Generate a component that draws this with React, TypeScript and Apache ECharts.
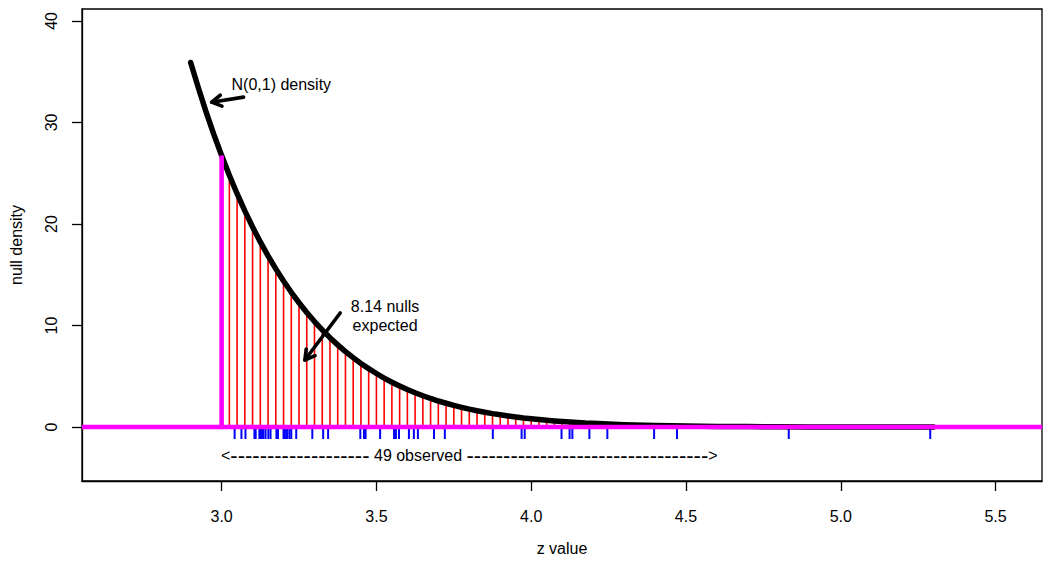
import React, { useEffect, useRef } from "react";
import * as echarts from "echarts";

// Scaled null density curve
const curveZ = [
  2.9, 2.925, 2.95, 2.975, 3.0, 3.025, 3.05, 3.075, 3.1, 3.125, 3.15, 3.175, 3.2, 3.225, 3.25, 3.275,
  3.3, 3.325, 3.35, 3.375, 3.4, 3.425, 3.45, 3.475, 3.5, 3.525, 3.55, 3.575, 3.6, 3.625, 3.65, 3.675,
  3.7, 3.725, 3.75, 3.775, 3.8, 3.825, 3.85, 3.875, 3.9, 3.925, 3.95, 3.975, 4.0, 4.025, 4.05, 4.075,
  4.1, 4.125, 4.15, 4.175, 4.2, 4.25, 4.3, 4.4, 4.5, 4.6, 4.7, 4.8, 4.9, 5.0, 5.1, 5.2, 5.3,
];
const curveDensity = [
  35.91, 33.39, 31.02, 28.81, 26.74, 24.8, 22.98, 21.29, 19.71, 18.23, 16.86, 15.58, 14.38, 13.27, 12.24, 11.28,
  10.39, 9.57, 8.8, 8.09, 7.43, 6.83, 6.26, 5.75, 5.27, 4.82, 4.41, 4.04, 3.69, 3.37, 3.08, 2.81,
  2.56, 2.34, 2.13, 1.94, 1.76, 1.6, 1.46, 1.32, 1.2, 1.09, 0.99, 0.89, 0.81, 0.73, 0.66, 0.6,
  0.54, 0.49, 0.44, 0.39, 0.36, 0.29, 0.23, 0.15, 0.1, 0.06, 0.04, 0.02, 0.01, 0.01, 0.01, 0.0, 0.0,
];

// Observed z values above the threshold (blue rug, 49 values)
const observedZ = [
  3.042, 3.064, 3.077, 3.106, 3.11, 3.122, 3.127, 3.132, 3.135, 3.142, 3.151, 3.158, 3.177, 3.182, 3.18,
  3.2, 3.204, 3.209, 3.212, 3.219, 3.225, 3.241, 3.293, 3.328, 3.344, 3.448, 3.46, 3.465, 3.512, 3.557,
  3.563, 3.573, 3.605, 3.621, 3.634, 3.686, 3.721, 3.876, 3.969, 3.979, 4.098, 4.124, 4.133, 4.188,
  4.246, 4.397, 4.471, 4.832, 5.289,
];

const threshold = 3.0;
const thresholdDensity = 26.74;
const spikeMaxZ = 4.2;

const xTicks = [3.0, 3.5, 4.0, 4.5, 5.0, 5.5];
const yTicks = [0, 10, 20, 30, 40];

const xLabel = "z value";
const yLabel = "null density";
const noteLabels = [
  "N(0,1) density",
  "8.14 nulls\nexpected",
  "<{d|" + "-".repeat(19) + "} 49 observed {d|" + "-".repeat(33) + "}>",
];

const FONT = "'Liberation Sans', Arial, Helvetica, sans-serif";

export default function App() {
  const ref = useRef<HTMLDivElement>(null);

  useEffect(() => {
    if (!ref.current) return;
    const chart = echarts.init(ref.current, null, { renderer: "svg" });

    const curveData = curveZ.map((z, i) => [z, curveDensity[i]]);
    const spikeData = curveData.filter((d) => d[0] > threshold && d[0] <= spikeMaxZ);
    const rugData = observedZ.map((z) => [z, 0]);

    const arrowData = [
      [3.071, 32.5, 2.968, 32.0],
      [3.383, 11.23, 3.269, 6.6],
    ];
    const noteAnchors = [
      [3.032, 33.7],
      [3.528, 10.9],
      [3.8, -2.76],
    ];
    const noteAligns = ["left", "center", "center"];

    const option: any = {
      animation: false,
      backgroundColor: "#ffffff",
      grid: {
        left: 79,
        right: 8,
        top: 9,
        bottom: 80,
        show: true,
        borderColor: "#000",
        borderWidth: 1.3,
        backgroundColor: "transparent",
      },
      xAxis: {
        type: "value",
        min: 2.549,
        max: 5.65,
        splitLine: { show: false },
        axisLine: { show: true, onZero: false, lineStyle: { color: "#000", width: 1.3 } },
        axisTick: { show: true, length: 10, customValues: xTicks, lineStyle: { color: "#000", width: 1.3 } },
        axisLabel: {
          customValues: xTicks,
          formatter: (v: number) => v.toFixed(1),
          color: "#000",
          fontSize: 16,
          fontFamily: FONT,
          margin: 27,
        },
        name: xLabel,
        nameLocation: "middle",
        nameGap: 59,
        nameTextStyle: { color: "#000", fontSize: 16, fontFamily: FONT },
      },
      yAxis: {
        type: "value",
        min: -5.32,
        max: 41.18,
        splitLine: { show: false },
        axisLine: { show: true, onZero: false, lineStyle: { color: "#000", width: 1.3 } },
        axisTick: { show: true, length: 10, customValues: yTicks, lineStyle: { color: "#000", width: 1.3 } },
        axisLabel: {
          customValues: yTicks,
          rotate: 90,
          color: "#000",
          fontSize: 16,
          fontFamily: FONT,
          margin: 23,
        },
        name: yLabel,
        nameLocation: "middle",
        nameGap: 58,
        nameRotate: 90,
        nameTextStyle: { color: "#000", fontSize: 16, fontFamily: FONT },
      },
      series: [
        {
          type: "custom",
          name: "observed",
          z: 1,
          clip: false,
          data: rugData,
          encode: { x: 0, y: 1 },
          renderItem: (params: any, api: any) => {
            const p = api.coord([api.value(0), api.value(1)]);
            return {
              type: "line",
              shape: { x1: p[0], y1: p[1], x2: p[0], y2: p[1] + 12 },
              style: { stroke: "#0000ff", lineWidth: 2 },
            };
          },
        },
        {
          type: "custom",
          name: "spikes",
          z: 2,
          data: spikeData,
          encode: { x: 0, y: 1 },
          renderItem: (params: any, api: any) => {
            const p0 = api.coord([api.value(0), 0]);
            const p1 = api.coord([api.value(0), api.value(1)]);
            return {
              type: "line",
              shape: { x1: p0[0], y1: p0[1], x2: p1[0], y2: p1[1] },
              style: { stroke: "#ff0000", lineWidth: 1.6 },
            };
          },
        },
        {
          type: "line",
          name: "N(0,1) density",
          z: 3,
          data: curveData,
          showSymbol: false,
          symbol: "none",
          lineStyle: { color: "#000", width: 5.5, cap: "round", join: "round" },
        },
        {
          type: "custom",
          name: "null line",
          z: 4,
          clip: false,
          data: [[threshold, thresholdDensity]],
          encode: { x: 0, y: 1 },
          renderItem: (params: any, api: any) => {
            const cs = params.coordSys;
            const base = api.coord([api.value(0), 0]);
            const top = api.coord([api.value(0), api.value(1)]);
            return {
              type: "group",
              children: [
                {
                  type: "line",
                  shape: { x1: cs.x, y1: base[1], x2: cs.x + cs.width, y2: base[1] },
                  style: { stroke: "#ff00ff", lineWidth: 4.6 },
                },
                {
                  type: "line",
                  shape: { x1: base[0], y1: base[1], x2: top[0], y2: top[1] },
                  style: { stroke: "#ff00ff", lineWidth: 4.6 },
                },
              ],
            };
          },
        },
        {
          type: "custom",
          name: "arrows",
          z: 5,
          clip: false,
          data: arrowData,
          encode: { x: [0, 2], y: [1, 3] },
          renderItem: (params: any, api: any) => {
            const p1 = api.coord([api.value(0), api.value(1)]);
            const p2 = api.coord([api.value(2), api.value(3)]);
            const a = Math.atan2(p2[1] - p1[1], p2[0] - p1[0]);
            const L = 11;
            const s = Math.PI / 6;
            const h1 = [p2[0] - L * Math.cos(a - s), p2[1] - L * Math.sin(a - s)];
            const h2 = [p2[0] - L * Math.cos(a + s), p2[1] - L * Math.sin(a + s)];
            const st = { stroke: "#000", lineWidth: 3.6, lineCap: "round", lineJoin: "round", fill: "none" };
            return {
              type: "group",
              children: [
                { type: "line", shape: { x1: p1[0], y1: p1[1], x2: p2[0], y2: p2[1] }, style: st },
                { type: "polyline", shape: { points: [h1, p2, h2] }, style: st },
              ],
            };
          },
        },
        {
          type: "custom",
          name: "notes",
          z: 6,
          clip: false,
          data: noteAnchors,
          encode: { x: 0, y: 1 },
          renderItem: (params: any, api: any) => {
            const p = api.coord([api.value(0), api.value(1)]);
            const i = params.dataIndex;
            return {
              type: "text",
              x: p[0],
              y: p[1],
              style: {
                text: noteLabels[i],
                fill: "#000",
                font: `16px ${FONT}`,
                fontSize: 16,
                fontFamily: FONT,
                lineHeight: 19,
                align: noteAligns[i],
                verticalAlign: "middle",
                textAlign: noteAligns[i],
                textVerticalAlign: "middle",
                rich: {
                  d: { fontSize: 22, fontFamily: FONT, fill: "#000", verticalAlign: "middle", lineHeight: 19 },
                },
              },
            };
          },
        },
      ],
    };

    chart.setOption(option);
    return () => chart.dispose();
  }, []);

  return (
    <div
      ref={ref}
      style={{ position: "absolute", left: 0, top: 0, width: 1050, height: 561, background: "#fff" }}
    />
  );
}
